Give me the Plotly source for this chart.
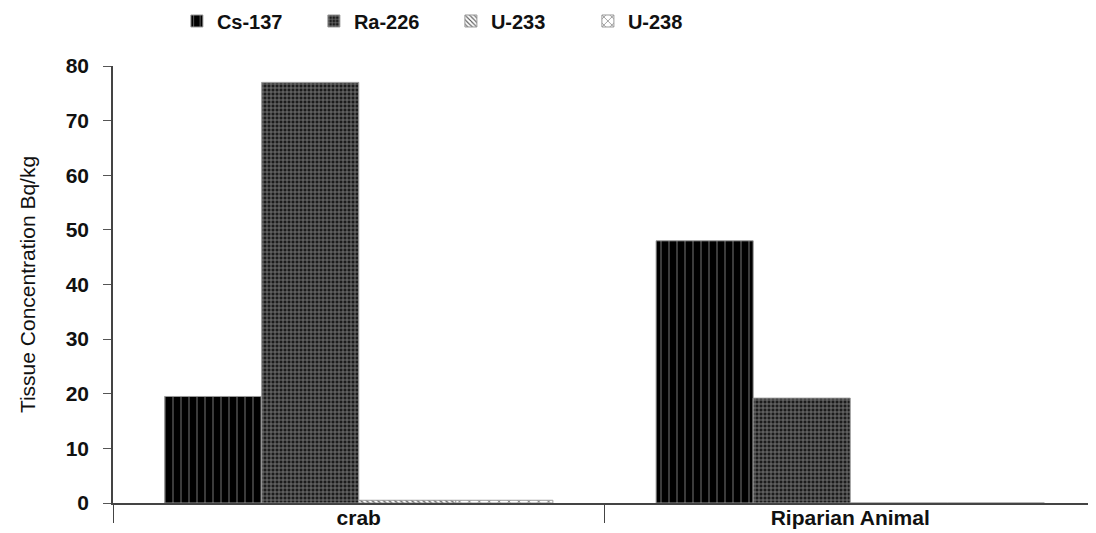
import plotly.graph_objects as go

categories = ["crab", "Riparian Animal"]
series_names = ["Cs-137", "Ra-226", "U-233", "U-238"]
cs137 = [19.5, 48.0]
ra226 = [77.0, 19.2]
u233 = [0.5, 0.0]
u238 = [0.5, 0.0]
y_ticks = [0, 10, 20, 30, 40, 50, 60, 70, 80]

values = [cs137, ra226, u233, u238]
patterns = [
    dict(shape="|", bgcolor="#000000", fgcolor="#7a7a7a", size=8, solidity=0.12, fillmode="replace"),
    dict(shape="+", bgcolor="#1c1c1c", fgcolor="#7a7a7a", size=4, solidity=0.4, fillmode="replace"),
    dict(shape="\\", bgcolor="#ffffff", fgcolor="#555555", size=4, solidity=0.35, fillmode="replace"),
    dict(shape="x", bgcolor="#ffffff", fgcolor="#666666", size=7, solidity=0.2, fillmode="replace"),
]

fig = go.Figure()
for name, vals, pat in zip(series_names, values, patterns):
    fig.add_trace(go.Bar(
        x=categories, y=vals, name=name,
        marker=dict(color=pat["bgcolor"], pattern=pat,
                    line=dict(color="#9a9a9a", width=1)),
    ))

fig.update_layout(
    barmode="group",
    bargap=0.21,
    bargroupgap=0.0,
    width=1088, height=525,
    margin=dict(l=105, r=0, t=58, b=30, autoexpand=False),
    paper_bgcolor="white", plot_bgcolor="white",
    showlegend=True,
    legend=dict(orientation="h", x=0.065, xanchor="left", y=1.103, yanchor="middle",
                font=dict(family="Liberation Sans", size=20, color="#111111", weight="bold"),
                itemwidth=30, tracegroupgap=0, entrywidth=92),
    xaxis=dict(showline=True, linecolor="#444444", linewidth=1.5, automargin=False,
               tickson="boundaries", ticks="outside", ticklen=18, tickcolor="#444444",
               ticklabelstandoff=-5,
               tickfont=dict(family="Liberation Sans", size=21, color="#111111", weight="bold"),
               showgrid=False, zeroline=False),
    yaxis=dict(range=[0, 80], tickvals=y_ticks, showline=True, linecolor="#444444", linewidth=1.5,
               automargin=False,
               ticks="outside", ticklen=8, tickcolor="#555555", ticklabelstandoff=10,
               tickfont=dict(family="Liberation Sans", size=21, color="#111111", weight="bold"),
               showgrid=False, zeroline=False,
               title=dict(text="Tissue Concentration Bq/kg",
                          font=dict(family="Liberation Sans Narrow, Liberation Sans", size=21, color="#111111"),
                          standoff=24)),
)

fig.write_html("out.html")
